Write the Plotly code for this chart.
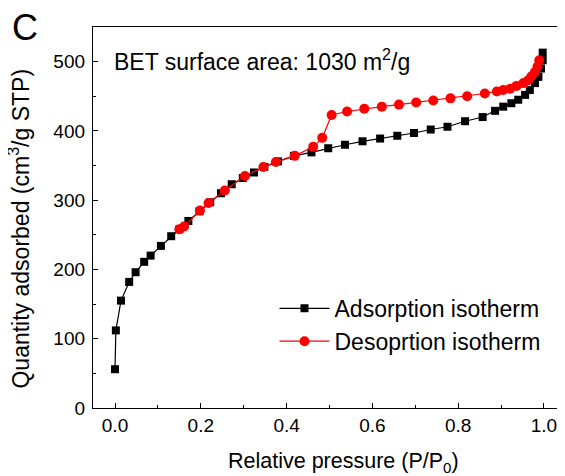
import plotly.graph_objects as go

ads_p = [0.0, 0.002, 0.014, 0.033, 0.048, 0.068, 0.083, 0.107, 0.131, 0.150, 0.171, 0.197,
         0.222, 0.247, 0.272, 0.298, 0.324, 0.348, 0.380, 0.417, 0.458, 0.497, 0.536, 0.577,
         0.618, 0.658, 0.697, 0.736, 0.775, 0.816, 0.857, 0.886, 0.905, 0.924, 0.940, 0.956,
         0.967, 0.979, 0.987, 0.993, 0.997, 0.997]
ads_q = [56, 112, 155, 182, 196, 211, 220, 234, 248, 258, 270, 284,
         297, 310, 323, 332, 340, 348, 356, 364, 369, 375, 380, 385,
         389, 393, 397, 402, 406, 414, 420, 429, 435, 440, 445, 452,
         459, 469, 478, 490, 502, 513]

des_p = [0.150, 0.161, 0.198, 0.218, 0.256, 0.303, 0.346, 0.375, 0.419, 0.462, 0.483, 0.505,
         0.541, 0.581, 0.622, 0.662, 0.702, 0.742, 0.782, 0.821, 0.862, 0.890, 0.905, 0.921,
         0.936, 0.952, 0.963, 0.971, 0.979, 0.985, 0.989]
des_q = [258, 262, 285, 296, 314, 335, 348, 355, 364, 377, 390, 423,
         428, 432, 435, 438, 441, 444, 447, 450, 454, 457, 459, 461,
         465, 469, 473, 479, 485, 493, 502]

x_ticks = [0.0, 0.2, 0.4, 0.6, 0.8, 1.0]
x_ticklabels = ["0.0", "0.2", "0.4", "0.6", "0.8", "1.0"]
y_ticks = [0, 100, 200, 300, 400, 500]

FONT = "Liberation Sans, Arial, sans-serif"

fig = go.Figure()
fig.add_trace(go.Scatter(x=ads_p, y=ads_q, mode="lines+markers", name="Adsorption isotherm",
                         line=dict(color="black", width=1.2),
                         marker=dict(symbol="square", size=8, color="black")))
fig.add_trace(go.Scatter(x=des_p, y=des_q, mode="lines+markers", name="Desoprtion isotherm",
                         line=dict(color="red", width=1.2),
                         marker=dict(symbol="circle", size=10, color="red")))

# page body has an 8px margin, so the figure is 8px smaller than the window
fig.update_layout(
    width=557, height=468,
    margin=dict(l=85, r=3, t=19, b=68, autoexpand=False),
    paper_bgcolor="white", plot_bgcolor="white",
    font=dict(family=FONT, color="black"),
    showlegend=True,
    legend=dict(x=0.387, y=0.318, xanchor="left", yanchor="top",
                font=dict(size=23, family=FONT), bgcolor="rgba(0,0,0,0)",
                itemwidth=50, tracegroupgap=0),
    xaxis=dict(range=[-0.0513, 1.042], tickvals=x_ticks, ticktext=x_ticklabels,
               ticks="inside", ticklen=5, tickwidth=1, tickcolor="black",
               minor=dict(ticks="inside", dtick=0.1, tick0=0, ticklen=3, tickcolor="black"),
               showline=True, linecolor="black", linewidth=1.3, mirror=True,
               showgrid=False, zeroline=False, automargin=False,
               tickfont=dict(size=19, family=FONT)),
    yaxis=dict(range=[0, 550], tickvals=y_ticks,
               ticks="inside", ticklen=5, tickwidth=1, tickcolor="black",
               minor=dict(ticks="inside", dtick=50, tick0=0, ticklen=3, tickcolor="black"),
               showline=True, linecolor="black", linewidth=1.3, mirror=True,
               showgrid=False, zeroline=False, automargin=False,
               tickfont=dict(size=19, family=FONT), ticklabelstandoff=3),
)

fig.add_annotation(text="Relative pressure (P/P<sub>0</sub>)", xref="paper", yref="paper",
                   x=0.535, y=-0.142, xanchor="center", yanchor="middle", showarrow=False,
                   font=dict(size=21.5, family=FONT, color="black"))
fig.add_annotation(text="Quantity adsorbed (cm<sup>3</sup>/g STP)", xref="paper", yref="paper",
                   x=-0.157, y=0.472, xanchor="center", yanchor="middle", showarrow=False,
                   textangle=-90, font=dict(size=23, family=FONT, color="black"))
fig.add_annotation(text="C", xref="paper", yref="paper", x=-0.145, y=1.0,
                   xanchor="center", yanchor="middle", showarrow=False,
                   font=dict(size=36, family=FONT, color="black"))
fig.add_annotation(text="BET surface area: 1030 m<sup>2</sup>/g", xref="paper", yref="paper",
                   x=0.04, y=0.913, xanchor="left", yanchor="middle", showarrow=False,
                   font=dict(size=23, family=FONT, color="black"))

fig.write_html("out.html")
